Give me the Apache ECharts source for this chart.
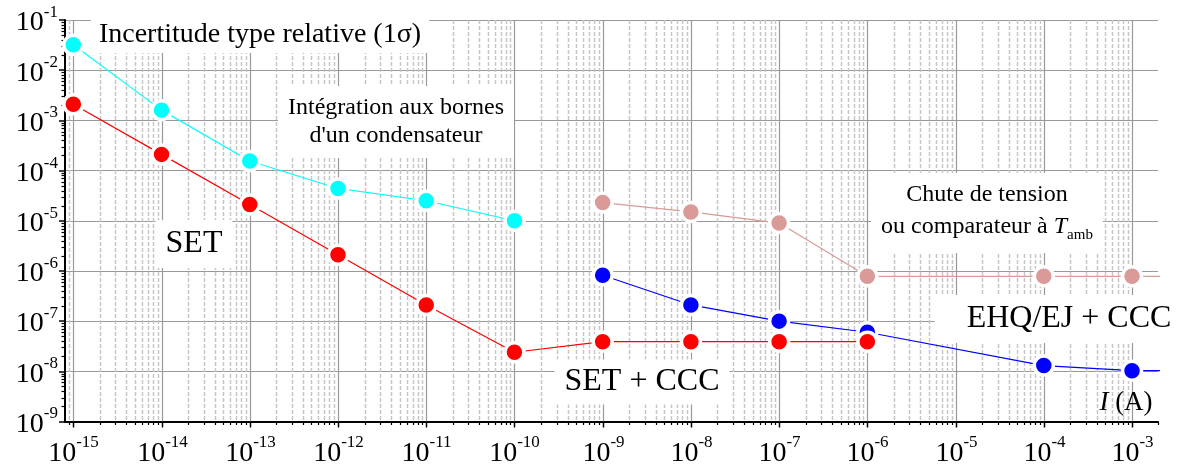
<!DOCTYPE html>
<html><head><meta charset="utf-8">
<script src="https://cdn.jsdelivr.net/npm/echarts@6/dist/echarts.min.js"></script>
<style>html,body{margin:0;padding:0;background:#fff}#c{width:1189px;height:465px}</style>
</head><body><div id="c"></div>
<script>
const FONT = 'Liberation Serif';
// Data (current I in A, relative standard uncertainty)
const capX = [1e-15, 1e-14, 1e-13, 1e-12, 1e-11, 1e-10];
const capY = [3.2e-2, 1.6e-3, 1.55e-4, 4.4e-5, 2.5e-5, 1e-5];
const setX = [1e-15, 1e-14, 1e-13, 1e-12, 1e-11, 1e-10, 1e-9, 1e-8, 1e-7, 1e-6];
const setY = [2.1e-3, 2.1e-4, 2.1e-5, 2.1e-6, 2.1e-7, 2.4e-8, 3.9e-8, 3.9e-8, 3.9e-8, 3.9e-8];
const chuteX = [1e-9, 1e-8, 1e-7, 1e-6, 1e-4, 1e-3, 1e-2];
const chuteY = [2.3e-5, 1.5e-5, 9e-6, 7.8e-7, 7.8e-7, 7.8e-7, 7.8e-7];
const ehqX = [1e-9, 1e-8, 1e-7, 1e-6, 1e-4, 1e-3, 1e-2];
const ehqY = [8.2e-7, 2.1e-7, 1e-7, 6e-8, 1.3e-8, 1.03e-8, 1.03e-8];
// axis ticks
const xMajorTicks = [1e-15, 1e-14, 1e-13, 1e-12, 1e-11, 1e-10, 1e-9, 1e-8, 1e-7, 1e-6, 1e-5, 1e-4, 1e-3];
const xRange = [8.05e-16, 1.97e-3];
const yRange = [1e-9, 1e-1];

// minor tick positions (2..9 x 10^n)
const minorX = [], minorY = [];
for (let n = -16; n <= -3; n++) for (let k = 2; k <= 9; k++) {
  const v = k * Math.pow(10, n);
  if (v > xRange[0] && v < xRange[1]) minorX.push([v, 1e-5, 0]);
}
minorX.push([xRange[1], 1e-5, 1]);
for (let n = -9; n <= -2; n++) for (let k = 2; k <= 9; k++) minorY.push(k * Math.pow(10, n));

const chart = echarts.init(document.getElementById('c'), null, {renderer: 'canvas'});

function powLabel(v) {
  const e = Math.log10(v), r = Math.round(e);
  if (Math.abs(e - r) > 1e-6) return '';
  return '{b|10}{s|' + r + '}';
}
const richLab = {
  b: {fontFamily: FONT, fontSize: 28, lineHeight: 38, color: '#000'},
  s: {fontFamily: FONT, fontSize: 17, lineHeight: 17, verticalAlign: 'top', color: '#000'}
};

function mkLine(name, xs, ys, color) {
  return {
    type: 'line', name, data: xs.map((x, i) => [x, ys[i]]),
    symbol: 'circle', symbolSize: 19, showAllSymbol: true,
    itemStyle: {color, borderColor: '#fff', borderWidth: 3.5},
    lineStyle: {color, width: 1.2}, z: 5, clip: true, animation: false
  };
}

const option = {
  animation: false,
  backgroundColor: '#fff',
  grid: {left: 65, right: 31, top: 20, bottom: 43.5, containLabel: false},
  xAxis: {
    type: 'log', logBase: 10, min: xRange[0], max: xRange[1],
    axisLine: {show: true, lineStyle: {color: '#000', width: 2}},
    axisTick: {show: false},
    axisLabel: {show: false},
    splitLine: {show: false}
  },
  yAxis: {
    type: 'log', logBase: 10, min: yRange[0], max: yRange[1], interval: 1,
    axisLine: {show: true, lineStyle: {color: '#000', width: 2}},
    axisTick: {show: true, length: 6, inside: false, lineStyle: {color: '#000', width: 1.5}},
    axisLabel: {formatter: powLabel, rich: richLab, margin: 7, padding: [6, 0, 0, 0]},
    splitLine: {show: true, showMinLine: false, showMaxLine: false, lineStyle: {color: '#999', width: 1.2}}
  },
  series: [
    { // minor vertical grid lines + minor x ticks
      type: 'custom', z: 1, clip: false, silent: true, animation: false,
      data: minorX,
      renderItem(params, api) {
        const cs = params.coordSys;
        const x = Math.round(api.coord([api.value(0), 1e-5])[0]) + 0.5;
        const yb = cs.y + cs.height;
        const tick = {type: 'line', shape: {x1: x, y1: yb, x2: x, y2: yb + 3.5}, style: {stroke: '#000', lineWidth: 1.2}};
        if (api.value(2) === 1) return tick;
        return {type: 'group', children: [
          {type: 'line', shape: {x1: x, y1: cs.y, x2: x, y2: yb}, style: {stroke: '#c6c6c6', lineWidth: 1.5, lineDash: [4, 2]}},
          tick
        ]};
      }
    },
    { // major vertical grid lines, ticks and labels
      type: 'custom', z: 2, clip: false, silent: true, animation: false,
      data: xMajorTicks.map(v => [v, 1e-5]),
      renderItem(params, api) {
        const cs = params.coordSys;
        const v = api.value(0);
        const x = Math.round(api.coord([v, 1e-5])[0]) + 0.5;
        const yb = cs.y + cs.height;
        return {type: 'group', children: [
          {type: 'line', shape: {x1: x, y1: cs.y, x2: x, y2: yb}, style: {stroke: '#999', lineWidth: 1.2}},
          {type: 'line', shape: {x1: x, y1: yb, x2: x, y2: yb + 6}, style: {stroke: '#000', lineWidth: 1.5}},
          {type: 'text', x: x, y: yb + 13, style: {text: powLabel(v), rich: richLab, align: 'center', verticalAlign: 'top', fill: '#000'}}
        ]};
      }
    },
    { // minor y ticks
      type: 'custom', z: 1, clip: false, silent: true, animation: false,
      data: minorY.map(v => [1e-12, v]),
      renderItem(params, api) {
        const cs = params.coordSys;
        const y = Math.round(api.coord([1e-12, api.value(1)])[1]) + 0.5;
        return {type: 'line', shape: {x1: cs.x - 3.5, y1: y, x2: cs.x, y2: y}, style: {stroke: '#000', lineWidth: 1.2}};
      }
    },
    mkLine('Intégration', capX, capY, '#00ffff'),
    mkLine('Chute', chuteX, chuteY, '#d99a98'),
    mkLine('EHQ', ehqX, ehqY, '#0000ff'),
    mkLine('SET', setX, setY, '#ff0000')
  ],
  graphic: [
    {type: 'text', x: 260, y: 34.5, z: 50, style: {text: 'Incertitude type relative (1σ)', font: '28px ' + FONT, lineHeight: 28, fill: '#000', align: 'center', verticalAlign: 'middle', backgroundColor: '#fff', padding: [4, 8, 5, 8]}},
    {type: 'text', x: 396, y: 122, z: 50, style: {text: 'Intégration aux bornes\nd\'un condensateur', font: '24px ' + FONT, lineHeight: 28, fill: '#000', align: 'center', verticalAlign: 'middle', backgroundColor: '#fff', padding: [8, 10, 8, 10]}},
    {type: 'text', x: 194, y: 244, z: 50, style: {text: 'SET', font: '32px ' + FONT, lineHeight: 34, fill: '#000', align: 'center', verticalAlign: 'middle', backgroundColor: '#fff', padding: [7, 10, 7, 10]}},
    {type: 'text', x: 642, y: 382, z: 50, style: {text: 'SET + CCC', font: '32px ' + FONT, lineHeight: 34, fill: '#000', align: 'center', verticalAlign: 'middle', backgroundColor: '#fff', padding: [5, 10, 6, 10]}},
    {type: 'text', x: 987, y: 213, z: 50, style: {
      text: 'Chute de tension\nou comparateur à {i|T}{sub|amb}', font: '24px ' + FONT, lineHeight: 32, fill: '#000', align: 'center', verticalAlign: 'middle', backgroundColor: '#fff', padding: [6, 10, 10, 10],
      rich: {i: {fontFamily: FONT, fontSize: 24, fontStyle: 'italic', lineHeight: 32}, sub: {fontFamily: FONT, fontSize: 15, lineHeight: 15, verticalAlign: 'bottom'}}}},
    {type: 'text', x: 1073, y: 319, z: 50, style: {text: 'EHQ/EJ + CCC', font: '32px ' + FONT, lineHeight: 34, fill: '#000', align: 'center', verticalAlign: 'middle', backgroundColor: '#fff', padding: [7, 40, 7, 32]}},
    {type: 'text', x: 1126, y: 403, z: 50, style: {
      text: '{i|I} (A)', font: '27px ' + FONT, fill: '#000', align: 'center', verticalAlign: 'middle',
      rich: {i: {fontFamily: FONT, fontSize: 27, fontStyle: 'italic'}}}}
  ]
};
chart.setOption(option);
</script></body></html>
